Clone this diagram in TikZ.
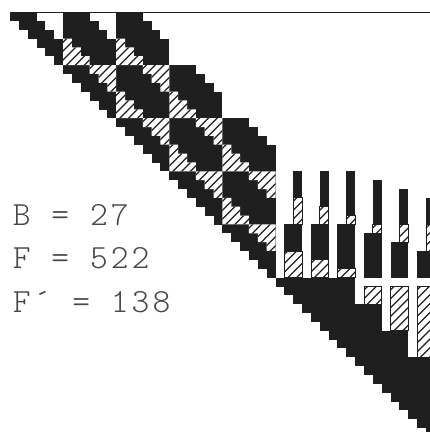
\documentclass[tikz,border=0pt]{standalone}
\usepackage{fontspec}
\newfontfamily\plotfont[LetterSpace=9]{Latin Modern Mono Light}
\definecolor{inkc}{gray}{0.12}
\definecolor{labelc}{gray}{0.28}
\tikzset{
  inkfill/.style={fill=inkc,draw=none},
  hatchline/.style={draw=inkc,line width=1.25bp},
  boxline/.style={draw=inkc,line width=0.8bp},
  plotlabel/.style={anchor=base west,inner sep=0pt,text=labelc,font=\plotfont\fontsize{34}{34}\selectfont}
}
\newcommand{\hatchregion}[1]{%
  \begin{scope}
    \fill[white] #1;
    \clip #1;
    \foreach \k in {0,...,100} \draw[hatchline] (\k+0.4,0) -- (0,\k+0.4);
  \end{scope}}
% triangle: lower-left stair, top-left corner at (col,row)
\newcommand{\triL}[2]{\hatchregion{(#1,#2) -- ++(1,0) -- ++(0,1) -- ++(1,0) -- ++(0,1) -- ++(1,0) -- ++(0,1) -- ++(-3,0) -- cycle}}
% triangle: upper-right stair, top-left corner at (col,row)
\newcommand{\triR}[2]{\hatchregion{(#1,#2) -- ++(3,0) -- ++(0,3) -- ++(-1,0) -- ++(0,-1) -- ++(-1,0) -- ++(0,-1) -- ++(-1,0) -- cycle}}
\newcommand{\hatchrect}[4]{\hatchregion{(#1,#2) rectangle (#3,#4)}\draw[boxline] (#1,#2) rectangle (#3,#4);}
\begin{document}
\begin{tikzpicture}[x=8.85bp,y=-8.85bp]
\useasboundingbox (-1.13,-1.356) rectangle (47.458,47.458);
\draw[inkc,line width=0.9bp] (0,0.05) -- (47.5,0.05);
% staircase band, row by row
\foreach \r/\a/\b in {0/0/3,0/6/9,0/12/15,1/1/4,1/6/10,1/12/16,2/2/5,2/6/11,2/12/17,
     3/3/18,4/4/18,5/5/18,6/6/21,7/7/22,8/8/23,9/9/24,10/10/24,11/11/24,
     12/12/27,13/13/28,14/14/29,15/15/30,16/16/30,17/17/30,18/18/30,19/19/30,20/20/30,
     21/21/30,22/22/30,23/23/30,24/24/30,25/25/30,26/26/30,27/27/30,28/28/30,29/29/30,
     30/30/39,31/31/39,32/32/39,33/33/42,34/34/42,35/35/42,36/36/45,37/37/45,38/38/45,
     39/39/50,40/40/50,41/41/50,42/42/50,43/43/50,44/44/50,45/45/50,46/46/50,47/47/50,48/48/50}
  { \fill[inkfill] (\a,\r) rectangle (\b,\r+1.02); }
% triangles
\foreach \c/\r in {6/3,12/3,12/9,18/9,18/15,24/15,24/21} {\triL{\c}{\r}}
\foreach \c/\r in {9/6,15/6,15/12,21/12,21/18,27/18,27/24} {\triR{\c}{\r}}
% towers: col of wide part, top of narrow, top of wide
\foreach \c/\t/\w in {31/18/24,34/18/24,37/18/24,40/19/25,43/20/26,46/21/27}
  { \fill[inkfill] (\c+1,\t) rectangle (\c+2,\w+0.02);
    \fill[inkfill] (\c,\w) rectangle (\c+2,30.02); }
% hatches inside narrow bars
\hatchrect{32}{21}{33}{24}
\hatchrect{35}{22}{36}{24}
\hatchrect{38}{23}{39}{24}
\hatchrect{41}{24}{42}{25}
\hatchrect{44}{24}{45}{26}
\hatchrect{47}{24}{48}{27}
% hatches at the foot of wide bars
\hatchrect{31}{27}{33}{30}
\hatchrect{34}{28}{36}{30}
\hatchrect{37}{29}{39}{30}
% hatches below
\hatchrect{40}{31}{42}{33}
\hatchrect{43}{31}{45}{36}
\hatchrect{46}{31}{48}{39}
% labels
\node[plotlabel] (lb) at (0.3,24.07) {B = 27};
\node[plotlabel] (lf) at (0.3,28.98) {F = 522};
\node[plotlabel] (lg) at (0.3,34.0) {F´ = 138};
\end{tikzpicture}
\end{document}
